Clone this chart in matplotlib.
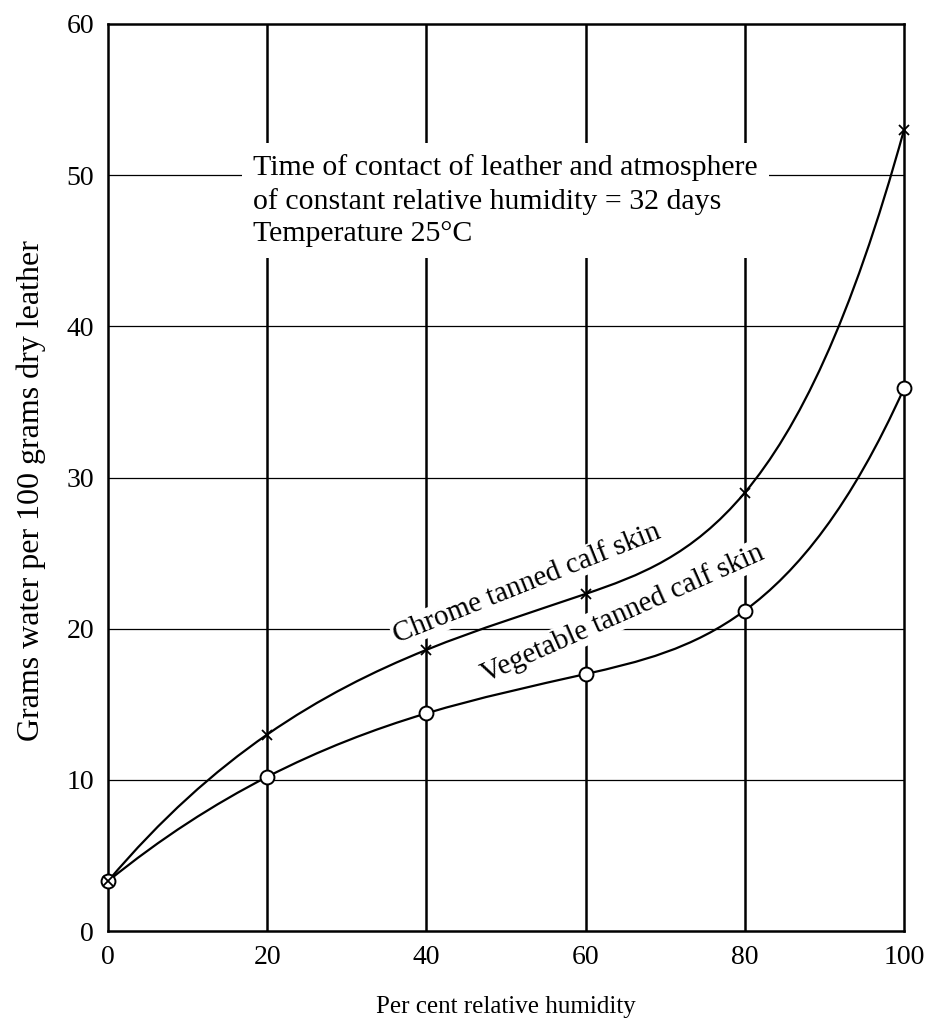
import numpy as np
import matplotlib
matplotlib.use("Agg")
import matplotlib.pyplot as plt
from matplotlib.path import Path
from matplotlib.patches import PathPatch

# --- DATA ---
humidity = [0, 20, 40, 60, 80, 100]
chrome_water = [3.3, 13.0, 18.6, 22.3, 29.0, 53.0]
vegetable_water = [3.3, 10.2, 14.4, 17.0, 21.2, 35.9]
x_ticks = [0, 20, 40, 60, 80, 100]
y_ticks = [0, 10, 20, 30, 40, 50, 60]

note_text = ("Time of contact of leather and atmosphere\n"
             "of constant relative humidity = 32 days\n"
             "Temperature 25\u00b0C")

plt.rcParams['font.family'] = ['Liberation Serif', 'DejaVu Serif']


def spline_path(xs, ys):
    """Not-a-knot cubic spline through the points, as exact Bezier segments."""
    xs = np.asarray(xs, float)
    ys = np.asarray(ys, float)
    n = len(xs) - 1
    h = np.diff(xs)
    A = np.zeros((4 * n, 4 * n))
    rhs = np.zeros(4 * n)
    r = 0
    for i in range(n):
        c = 4 * i
        A[r, c] = 1; rhs[r] = ys[i]; r += 1
        A[r, c:c + 4] = [1, h[i], h[i] ** 2, h[i] ** 3]; rhs[r] = ys[i + 1]; r += 1
    for i in range(n - 1):
        c = 4 * i
        # first and second derivative continuity
        A[r, c:c + 4] = [0, 1, 2 * h[i], 3 * h[i] ** 2]; A[r, c + 5] = -1; r += 1
        A[r, c:c + 4] = [0, 0, 2, 6 * h[i]]; A[r, c + 6] = -2; r += 1
    # not-a-knot: third derivative continuous at second and second-last knots
    A[r, 3] = 1; A[r, 7] = -1; r += 1
    A[r, 4 * (n - 2) + 3] = 1; A[r, 4 * (n - 1) + 3] = -1; r += 1
    coef = np.linalg.solve(A, rhs).reshape(n, 4)

    verts = [(xs[0], ys[0])]
    codes = [Path.MOVETO]
    for i in range(n):
        a, b, cc, d = coef[i]
        hh = h[i]
        slope_end = b + 2 * cc * hh + 3 * d * hh ** 2
        verts += [(xs[i] + hh / 3, a + b * hh / 3),
                  (xs[i + 1] - hh / 3, ys[i + 1] - slope_end * hh / 3),
                  (xs[i + 1], ys[i + 1])]
        codes += [Path.CURVE4] * 3
    return Path(verts, codes)


fig = plt.figure(figsize=(9.29, 10.29), dpi=100)
ax = fig.add_axes([0.1163, 0.0952, 0.8568, 0.8815])
ax.set_xlim(0, 100)
ax.set_ylim(0, 60)

# grid: heavy verticals, light horizontals
for gx in x_ticks[1:-1]:
    ax.axvline(gx, color='black', lw=1.8, zorder=0.5)
for gy in y_ticks[1:-1]:
    ax.axhline(gy, color='black', lw=0.9, zorder=0.5)

for side in ax.spines.values():
    side.set_linewidth(1.8)

# curves
for ys in (chrome_water, vegetable_water):
    ax.add_patch(PathPatch(spline_path(humidity, ys), facecolor='none',
                           edgecolor='black', lw=1.6, zorder=3))

ax.plot(humidity, vegetable_water, linestyle='none', marker='o', ms=10,
        mfc='white', mec='black', mew=1.4, zorder=4, clip_on=False)
ax.plot(humidity, chrome_water, linestyle='none', marker='x', ms=7.5,
        mec='black', mew=1.3, zorder=5, clip_on=False)

# annotations
ax.text(18.2, 51.4, note_text, fontsize=21.5, ha='left', va='top',
        linespacing=1.33, zorder=1,
        bbox=dict(facecolor='white', edgecolor='none', pad=8))
ax.text(52.6, 23.0, "Chrome tanned calf skin", fontsize=21,
        rotation=21.7, ha='center', va='center', rotation_mode='anchor',
        zorder=1, bbox=dict(facecolor='white', edgecolor='none', pad=1))
ax.text(64.7, 21.0, "Vegetable tanned calf skin", fontsize=21,
        rotation=23.9, ha='center', va='center', rotation_mode='anchor',
        zorder=1, bbox=dict(facecolor='white', edgecolor='none', pad=1))

ax.set_xticks(x_ticks)
ax.set_yticks(y_ticks)
ax.tick_params(length=0, labelsize=20, pad=10)
ax.set_xlabel("Per cent relative humidity", fontsize=18, labelpad=19)
ax.set_ylabel("Grams water per 100 grams dry leather", fontsize=23)
ax.yaxis.set_label_coords(-0.0775, 0.486)

fig.savefig("out.png", dpi=100)
